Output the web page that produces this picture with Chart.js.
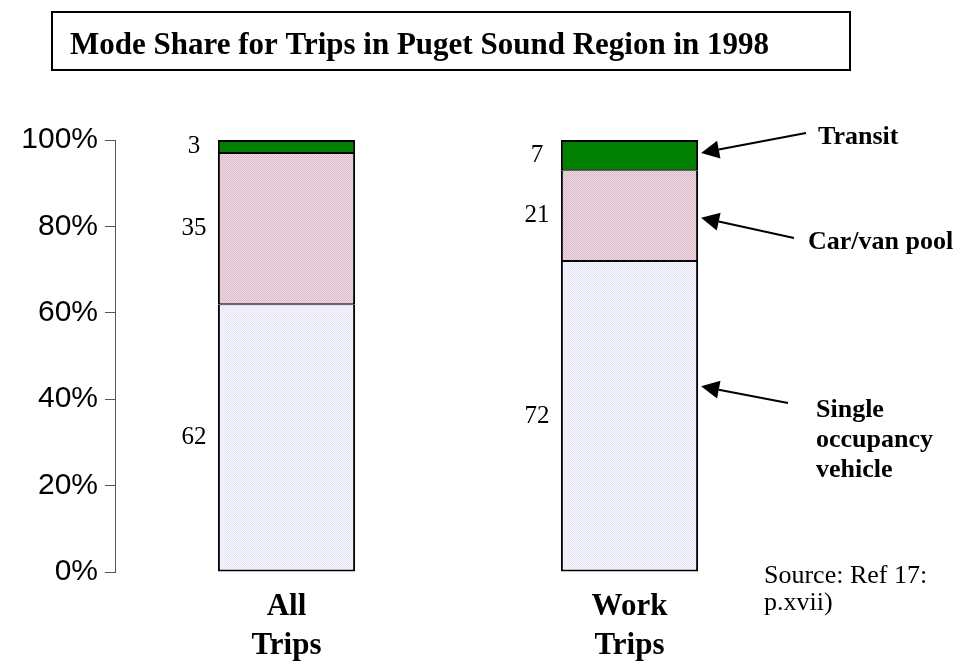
<!DOCTYPE html>
<html>
<head>
<meta charset="utf-8">
<script src="https://cdn.jsdelivr.net/npm/chart.js@4.4.1/dist/chart.umd.min.js"></script>
<style>
  html, body { margin: 0; padding: 0; background: #ffffff; }
  #wrap { width: 966px; height: 661px; position: relative; }
</style>
</head>
<body>
<div id="wrap"><canvas id="c" width="966" height="661"></canvas></div>
<script>
// ---- data ----
const categories = [['All', 'Trips'], ['Work', 'Trips']];
const singleOccupancy = [62, 72];
const carVanPool = [35, 21];
const transit = [3, 7];
const yTicks = [0, 20, 40, 60, 80, 100];
const titleText = 'Mode Share for Trips in Puget Sound Region in 1998';
const annotationLabels = [['Transit'], ['Car/van pool'], ['Single', 'occupancy', 'vehicle']];
const annotationTargets = [97, 82, 43];   // value (%) each arrow points at on the Work Trips bar
const sourceLines = ['Source: Ref 17:', 'p.xvii)'];

function makePattern(base, dot) {
  const p = document.createElement('canvas');
  p.width = 2; p.height = 2;
  const g = p.getContext('2d');
  g.fillStyle = base; g.fillRect(0, 0, 2, 2);
  g.fillStyle = dot; g.fillRect(0, 0, 1, 1); g.fillRect(1, 1, 1, 1);
  return document.getElementById('c').getContext('2d').createPattern(p, 'repeat');
}
const pinkFill = makePattern('#eedae3', '#dcbccb');
const lavFill = makePattern('#f6f6ff', '#e6e6f6');

const SERIF = '"Liberation Serif", "Times New Roman", serif';
const SANS = '"Liberation Sans", Arial, sans-serif';

const decorPlugin = {
  id: 'decor',
  afterDatasetsDraw(chart) {
    const ctx = chart.ctx;
    ctx.save();
    ctx.font = '25px ' + SERIF;
    ctx.fillStyle = '#000';
    ctx.textAlign = 'center';
    ctx.textBaseline = 'middle';
    chart.data.datasets.forEach((ds, di) => {
      const meta = chart.getDatasetMeta(di);
      meta.data.forEach((bar, i) => {
        const left = bar.x - bar.width / 2;
        const cy = (bar.y + bar.base) / 2;
        ctx.fillText(String(ds.data[i]), left - 24, cy);
      });
    });
    ctx.restore();
  },
  afterDraw(chart) {
    const ctx = chart.ctx;
    const yS = chart.scales.y;
    ctx.save();
    // title box
    ctx.strokeStyle = '#000';
    ctx.lineWidth = 2;
    ctx.strokeRect(52, 12, 798, 58);
    ctx.font = 'bold 31px ' + SERIF;
    ctx.fillStyle = '#000';
    ctx.textAlign = 'left';
    ctx.textBaseline = 'alphabetic';
    ctx.fillText(titleText, 70, 54);

    // arrows to work trips bar
    const bar = chart.getDatasetMeta(0).data[1];
    const tipX = bar.x + bar.width / 2 + 3;
    const tails = [[806, 133], [794, 238], [788, 403]];
    annotationTargets.forEach((v, k) => {
      const tx = tipX, ty = yS.getPixelForValue(v);
      const [sx, sy] = tails[k];
      const ang = Math.atan2(ty - sy, tx - sx);
      const hl = 18, hw = 9;
      const bx = tx - hl * Math.cos(ang), by = ty - hl * Math.sin(ang);
      ctx.beginPath();
      ctx.moveTo(sx, sy); ctx.lineTo(bx, by);
      ctx.lineWidth = 2; ctx.stroke();
      ctx.beginPath();
      ctx.moveTo(tx, ty);
      ctx.lineTo(bx + hw * Math.sin(ang), by - hw * Math.cos(ang));
      ctx.lineTo(bx - hw * Math.sin(ang), by + hw * Math.cos(ang));
      ctx.closePath(); ctx.fill();
    });

    // annotation texts
    ctx.font = 'bold 26px ' + SERIF;
    ctx.textBaseline = 'middle';
    const textPos = [[818, 137], [808, 242], [816, 410]];
    annotationLabels.forEach((lines, k) => {
      lines.forEach((t, j) => ctx.fillText(t, textPos[k][0], textPos[k][1] + j * 30));
    });

    // source
    ctx.font = '26px ' + SERIF;
    sourceLines.forEach((t, j) => ctx.fillText(t, 764, 576 + j * 27));
    ctx.restore();
  }
};

const sideBorders = [
  { top: 1, bottom: 2, left: 2, right: 2 },
  { top: 1, bottom: 1, left: 2, right: 2 },
  { top: 2, bottom: 1, left: 2, right: 2 }
];

new Chart(document.getElementById('c'), {
  type: 'bar',
  data: {
    labels: categories,
    datasets: [
      { label: 'Single occupancy vehicle', data: singleOccupancy, backgroundColor: lavFill },
      { label: 'Car/van pool', data: carVanPool, backgroundColor: pinkFill },
      { label: 'Transit', data: transit, backgroundColor: '#007f00' }
    ].map((d, i) => Object.assign(d, {
      borderColor: '#000', borderWidth: sideBorders[i], borderSkipped: false,
      barPercentage: 0.4, categoryPercentage: 1.0
    }))
  },
  options: {
    responsive: false,
    animation: false,
    devicePixelRatio: 1,
    layout: { padding: { top: 140, right: 165, bottom: 0, left: 0 } },
    plugins: { legend: { display: false }, tooltip: { enabled: false }, title: { display: false } },
    scales: {
      x: {
        stacked: true,
        grid: { display: false },
        border: { display: false },
        ticks: {
          color: '#000',
          font: { family: SERIF, size: 31, weight: 'bold', lineHeight: 1.25 },
          padding: 8,
          maxRotation: 0
        },
        afterFit(s) { s.height = 89; }
      },
      y: {
        stacked: true,
        min: 0, max: 100,
        afterBuildTicks(s) { s.ticks = yTicks.map(v => ({ value: v })); },
        grid: { drawOnChartArea: false, drawTicks: true, tickLength: 10, color: '#555', lineWidth: 1 },
        border: { display: true, color: '#555', width: 1 },
        ticks: {
          color: '#000',
          font: { family: SANS, size: 30 },
          padding: 7,
          callback: v => v + '%'
        },
        afterFit(s) { s.width = 115; }
      }
    }
  },
  plugins: [decorPlugin]
});
</script>
</body>
</html>
